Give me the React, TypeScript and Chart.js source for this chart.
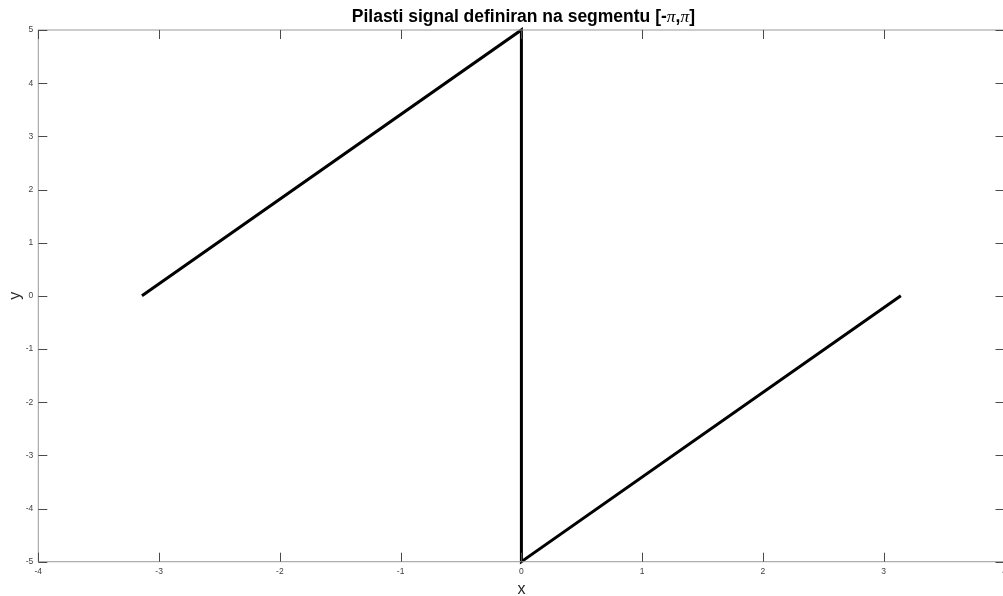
import React, { useEffect, useRef } from "react";
import { Chart, registerables } from "chart.js";
Chart.register(...registerables);

const xValues = [-3.1416, 0, 0, 3.1416];
const yValues = [0, 5, -5, 0];
const xTicks = [-4, -3, -2, -1, 0, 1, 2, 3, 4];
const yTicks = [5, 4, 3, 2, 1, 0, -1, -2, -3, -4, -5];
const titleParts: [string, boolean][] = [
  ["Pilasti signal definiran na segmentu [-", false],
  ["\u03C0", true],
  [",", false],
  ["\u03C0", true],
  ["]", false],
];
const xLabel = "x";
const yLabel = "y";

const boxPlugin = {
  id: "matlabBox",
  afterDatasetsDraw(chart: any) {
    const { ctx, chartArea: a, scales } = chart;
    const xs = scales.x;
    const ys = scales.y;
    ctx.save();
    ctx.strokeStyle = "#9a9a9a";
    ctx.lineWidth = 1;
    ctx.strokeRect(a.left, a.top, a.right - a.left, a.bottom - a.top);
    ctx.strokeStyle = "#4a4a4a";
    const tl = 9;
    ctx.beginPath();
    for (const v of xTicks) {
      const px = Math.round(xs.getPixelForValue(v)) + 0.5;
      ctx.moveTo(px, a.bottom);
      ctx.lineTo(px, a.bottom - tl);
      ctx.moveTo(px, a.top);
      ctx.lineTo(px, a.top + tl);
    }
    for (const v of yTicks) {
      const py = Math.round(ys.getPixelForValue(v)) + 0.5;
      ctx.moveTo(a.left, py);
      ctx.lineTo(a.left + tl, py);
      ctx.moveTo(a.right, py);
      ctx.lineTo(a.right - tl, py);
    }
    ctx.stroke();

    ctx.fillStyle = "#404040";
    ctx.font = "8.5px 'Liberation Sans', Arial, sans-serif";
    ctx.textAlign = "center";
    ctx.textBaseline = "middle";
    for (const v of xTicks) {
      ctx.fillText(String(v), xs.getPixelForValue(v), a.bottom + 10);
    }
    ctx.textAlign = "right";
    for (const v of yTicks) {
      ctx.fillText(String(v), a.left - 5, ys.getPixelForValue(v));
    }

    ctx.fillStyle = "#262626";
    ctx.font = "16px 'Liberation Sans', Arial, sans-serif";
    ctx.textAlign = "center";
    ctx.textBaseline = "middle";
    ctx.fillText(xLabel, (a.left + xs.getPixelForValue(4)) / 2, a.bottom + 28);
    ctx.save();
    ctx.translate(16, (a.top + a.bottom) / 2);
    ctx.rotate(-Math.PI / 2);
    ctx.fillText(yLabel, 0, 0);
    ctx.restore();

    // title
    const bold = "bold 17.5px 'Liberation Sans', Arial, sans-serif";
    const ital = "italic 17.5px 'Liberation Serif', 'Times New Roman', serif";
    let total = 0;
    for (const [t, it] of titleParts) {
      ctx.font = it ? ital : bold;
      total += ctx.measureText(t).width;
    }
    let x = xs.getPixelForValue(0) + 2 - total / 2;
    ctx.fillStyle = "#000";
    ctx.textAlign = "left";
    ctx.textBaseline = "alphabetic";
    for (const [t, it] of titleParts) {
      ctx.font = it ? ital : bold;
      ctx.fillText(t, x, 22);
      x += ctx.measureText(t).width;
    }
    ctx.restore();
  },
};

export default function App() {
  const ref = useRef<HTMLCanvasElement | null>(null);
  useEffect(() => {
    if (!ref.current) return;
    const chart = new Chart(ref.current, {
      type: "line",
      data: {
        datasets: [
          {
            data: xValues.map((x, i) => ({ x, y: yValues[i] })),
            borderColor: "#000",
            borderWidth: 3,
            pointRadius: 0,
            fill: false,
            tension: 0,
            clip: false as any,
          },
        ],
      },
      options: {
        animation: false,
        responsive: false,
        events: [],
        layout: { padding: { left: 38.3, right: 5.5, top: 30, bottom: 34.3 } },
        plugins: { legend: { display: false }, tooltip: { enabled: false }, title: { display: false } },
        scales: {
          x: { type: "linear", min: -4, max: 4, display: false },
          y: { type: "linear", min: -5, max: 5, display: false },
        },
      },
      plugins: [boxPlugin],
    });
    return () => chart.destroy();
  }, []);
  return (
    <div style={{ position: "fixed", left: 0, top: 0, width: 1003, height: 596, overflow: "hidden", background: "#fff" }}>
      <canvas ref={ref} width={1010} height={596} style={{ width: 1010, height: 596, display: "block" }} />
    </div>
  );
}
